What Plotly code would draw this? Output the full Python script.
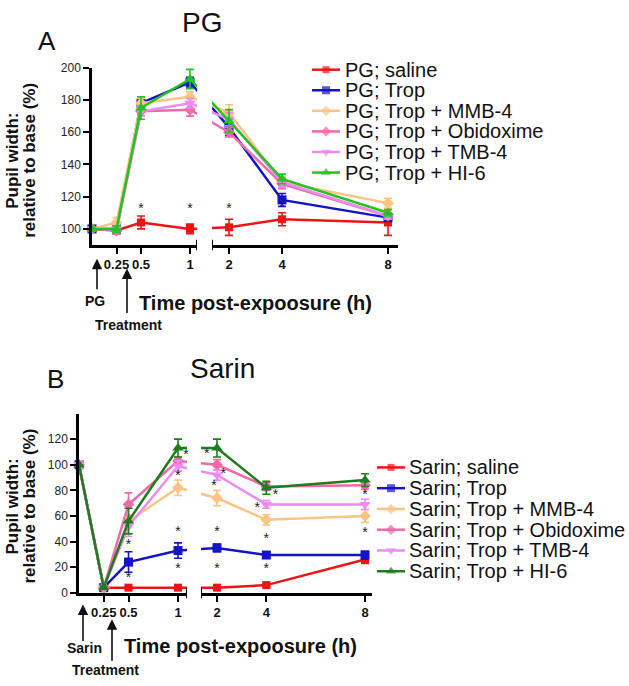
import plotly.graph_objects as go

W, H = 629, 686

# ---------------- data ----------------
TIMES = [0, 0.25, 0.5, 1, 2, 4, 8]
TICK_TIMES = [0.25, 0.5, 1, 2, 4, 8]
TICK_LABELS = ["0.25", "0.5", "1", "2", "4", "8"]
TREATMENTS = ["saline", "Trop", "Trop + MMB-4", "Trop + Obidoxime", "Trop + TMB-4", "Trop + HI-6"]

PG_YTICKS = [100, 120, 140, 160, 180, 200]
SARIN_YTICKS = [0, 20, 40, 60, 80, 100, 120]

# Panel A: PG
PG_SALINE = [100, 99, 104, 100, 101, 106, 104]
PG_SALINE_ERR = [1, 2, 4, 3, 5, 4, 8]
PG_TROP = [100, 100, 178, 191, 163, 118, 107]
PG_TROP_ERR = [1, 2, 4, 3, 5, 4, 2]
PG_MMB4 = [100, 104, 178, 182, 172, 129, 116]
PG_MMB4_ERR = [1, 3, 3, 3, 5, 3, 3]
PG_OBIDOXIME = [100, 99, 173, 174, 160, 128, 108]
PG_OBIDOXIME_ERR = [1, 2, 3, 4, 3, 3, 2]
PG_TMB4 = [100, 100, 173, 178, 168, 129, 108]
PG_TMB4_ERR = [1, 2, 3, 3, 4, 3, 2]
PG_HI6 = [100, 100, 175, 193, 167, 131, 110]
PG_HI6_ERR = [1, 2, 7, 6, 7, 3, 2]
PG_STARS_T = [0.5, 1, 2, 4]
PG_STARS_Y = [112, 112, 112, 113]

# Panel B: Sarin
SARIN_SALINE = [100, 4, 4, 4, 4, 6, 26]
SARIN_SALINE_ERR = [0, 1, 1, 1, 1, 1, 3]
SARIN_TROP = [100, 4, 24, 33, 35, 29.5, 29.5]
SARIN_TROP_ERR = [0, 1, 8, 6, 3, 2, 3]
SARIN_MMB4 = [100, 4, 56, 82, 74, 57, 60]
SARIN_MMB4_ERR = [0, 1, 5, 6, 6, 4, 5]
SARIN_OBIDOXIME = [100, 4, 69, 103, 100, 83, 84]
SARIN_OBIDOXIME_ERR = [3, 1, 9, 3, 4, 3, 3]
SARIN_TMB4 = [100, 4, 52, 99, 92, 69, 69]
SARIN_TMB4_ERR = [3, 1, 8, 4, 4, 3, 4]
SARIN_HI6 = [100, 4, 56, 113, 113, 82, 88]
SARIN_HI6_ERR = [0, 1, 10, 7, 7, 5, 5]
SARIN_STARS_T = [0.5, 0.5, 1, 1, 1, 1.08, 2, 2, 1.88, 1.58, 2.25, 4, 4, 3.63, 4.37, 8, 8]
SARIN_STARS_Y = [37, 11, 47, 18, 91, 107, 47, 18, 83, 108, 92, 42, 18, 66, 76, 76, 46]

# ---------------- styles ----------------
FONT = "Liberation Sans, Arial, sans-serif"
SYMBOLS = ["square", "square", "diamond", "diamond", "triangle-down", "triangle-up"]
MSIZE = [8, 9, 9, 9, 10, 10]
COLORS_A = ["#EE1414", "#1414C4", "#FBC384", "#EF6AA6", "#EC8BF0", "#22C322"]
COLORS_B = ["#EE1414", "#1414C4", "#FBC384", "#EF6AA6", "#EC8BF0", "#1B7D1B"]
BREAK_T = 1.15


def fx(px):
    return px / W


def fy(py):
    return 1 - py / H


# broken-axis geometry (pixels) per panel
PANELS = [
    dict(name="PG", series=[PG_SALINE, PG_TROP, PG_MMB4, PG_OBIDOXIME, PG_TMB4, PG_HI6],
         errs=[PG_SALINE_ERR, PG_TROP_ERR, PG_MMB4_ERR, PG_OBIDOXIME_ERR, PG_TMB4_ERR, PG_HI6_ERR],
         colors=COLORS_A, stars=(PG_STARS_T, PG_STARS_Y), yticks=PG_YTICKS, yrange=[90, 200],
         x0=92, s1end=197, s2start=212, xend=398, ppu=98.0, px2=229, px8=388,
         ytop=62, ybot=243, xa="x", xb="x2", ya="y"),
    dict(name="Sarin", series=[SARIN_SALINE, SARIN_TROP, SARIN_MMB4, SARIN_OBIDOXIME, SARIN_TMB4, SARIN_HI6],
         errs=[SARIN_SALINE_ERR, SARIN_TROP_ERR, SARIN_MMB4_ERR, SARIN_OBIDOXIME_ERR, SARIN_TMB4_ERR, SARIN_HI6_ERR],
         colors=COLORS_B, stars=(SARIN_STARS_T, SARIN_STARS_Y), yticks=SARIN_YTICKS, yrange=[0, 140],
         x0=79, s1end=187, s2start=201, xend=372, ppu=99.0, px2=217, px8=365,
         ytop=415, ybot=598, xa="x3", xb="x4", ya="y2"),
]

for p in PANELS:
    u2 = (p["px2"] - p["x0"]) / p["ppu"]
    u8 = (p["px8"] - p["x0"]) / p["ppu"]
    p["r"] = (u8 - u2) / 6.0
    p["c"] = u2 - 2 * p["r"]
    p["range1"] = [0, (p["s1end"] - p["x0"]) / p["ppu"]]
    p["range2"] = [(p["s2start"] - p["x0"]) / p["ppu"], (p["xend"] - p["x0"]) / p["ppu"]]


def to_u(t, p):
    # broken axis scale: first segment linear in t, second segment compressed
    return t if t <= BREAK_T else p["c"] + p["r"] * t


fig = go.Figure()

for p in PANELS:
    xs = [to_u(t, p) for t in TIMES]
    st, sy = p["stars"]
    for seg, xaxis in enumerate((p["xa"], p["xb"])):
        for vals, errs, col, sym, ms in zip(p["series"], p["errs"], p["colors"], SYMBOLS, MSIZE):
            fig.add_trace(go.Scatter(
                x=xs, y=vals, mode="lines+markers",
                error_y=dict(type="data", array=errs, visible=True, color=col, thickness=1.6, width=4),
                line=dict(color=col, width=2.5),
                marker=dict(symbol=sym, size=ms, color=col, line=dict(width=0)),
                cliponaxis=False, showlegend=False,
                xaxis=xaxis, yaxis=p["ya"]))
        keep = [(t, y) for t, y in zip(st, sy) if (t <= BREAK_T) == (seg == 0)]
        fig.add_trace(go.Scatter(
            x=[to_u(t, p) for t, _ in keep], y=[y for _, y in keep], mode="text", text=["*"] * len(keep),
            textposition="middle center", textfont=dict(size=14, color="#222", family=FONT),
            cliponaxis=False, showlegend=False, xaxis=xaxis, yaxis=p["ya"]))

# ---------------- axes ----------------
axis_common = dict(showline=True, linewidth=2.5, linecolor="black", ticks="outside",
                   ticklen=6, tickwidth=2, tickcolor="black", showgrid=False, zeroline=False)
layout_axes = {}
for i, p in enumerate(PANELS):
    t1 = [t for t in TICK_TIMES if t <= BREAK_T]
    l1 = [l for t, l in zip(TICK_TIMES, TICK_LABELS) if t <= BREAK_T]
    t2 = [t for t in TICK_TIMES if t > BREAK_T]
    l2 = [l for t, l in zip(TICK_TIMES, TICK_LABELS) if t > BREAK_T]
    xfont = dict(family=FONT, size=13, color="#111", weight="bold")
    ykey = "yaxis" if p["ya"] == "y" else "yaxis" + p["ya"][1:]
    k1 = "xaxis" if p["xa"] == "x" else "xaxis" + p["xa"][1:]
    k2 = "xaxis" + p["xb"][1:]
    layout_axes[k1] = dict(axis_common, domain=[fx(p["x0"]), fx(p["s1end"])], range=p["range1"],
                           anchor=p["ya"], tickvals=[to_u(t, p) for t in t1], ticktext=l1, tickfont=xfont)
    layout_axes[k2] = dict(axis_common, domain=[fx(p["s2start"]), fx(p["xend"])], range=p["range2"],
                           anchor=p["ya"], tickvals=[to_u(t, p) for t in t2], ticktext=l2, tickfont=xfont)
    layout_axes[ykey] = dict(axis_common, domain=[fy(p["ybot"]), fy(p["ytop"])], range=p["yrange"],
                             anchor=p["xa"], tickvals=p["yticks"],
                             tickfont=dict(family=FONT, size=12, color="#222"))

# overlay axis for the legend keys (pixel space)
layout_axes["xaxis5"] = dict(domain=[0, 1], range=[0, W], visible=False, anchor="y5")
layout_axes["yaxis5"] = dict(domain=[0, 1], range=[H, 0], visible=False, anchor="x5")

# ---------------- legends ----------------
LEG = [dict(prefix="PG; ", x0=312, x1=340, xt=343, y0=64, dy=21, colors=COLORS_A),
       dict(prefix="Sarin; ", x0=377, x1=405, xt=407, y0=470, dy=21.2, colors=COLORS_B)]
annotations = []
for lg in LEG:
    for i, (name, col, sym, ms) in enumerate(zip(TREATMENTS, lg["colors"], SYMBOLS, MSIZE)):
        yy = lg["y0"] + i * lg["dy"]
        xm = (lg["x0"] + lg["x1"]) / 2
        fig.add_trace(go.Scatter(
            x=[lg["x0"], xm, lg["x1"]], y=[yy, yy, yy], mode="lines+markers",
            line=dict(color=col, width=2.5),
            marker=dict(symbol=sym, size=[0, ms - 1, 0], color=col, line=dict(width=0)),
            cliponaxis=False, showlegend=False, xaxis="x5", yaxis="y5"))
        annotations.append(dict(text=lg["prefix"] + name, x=fx(lg["xt"]), y=fy(yy), xref="paper", yref="paper",
                                xanchor="left", yanchor="middle", showarrow=False,
                                font=dict(family=FONT, size=20, color="#111")))


def text(t, x, y, size, bold=False, angle=0, anchor="center"):
    annotations.append(dict(text=t, x=fx(x), y=fy(y), xref="paper", yref="paper", xanchor=anchor,
                            yanchor="middle", showarrow=False, textangle=angle,
                            font=dict(family=FONT, size=size, color="#111",
                                      weight="bold" if bold else "normal")))


def arrow(x, ytip, ytail):
    annotations.append(dict(text="", x=fx(x), y=fy(ytip), xref="paper", yref="paper", showarrow=True,
                            ax=0, ay=ytail - ytip, arrowhead=2, arrowsize=1.3, arrowwidth=1.6,
                            arrowcolor="#111"))


# panel A texts
text("A", 47, 35, 26)
text("PG", 202, 16, 28)
text("Pupil width:", 13, 157, 17, bold=True, angle=-90)
text("relative to base (%)", 30, 157, 17, bold=True, angle=-90)
text("Time post-expoosure (h)", 255, 302, 20, bold=True)
arrow(97, 257, 289)
arrow(127, 267, 313)
text("PG", 95, 300, 14, bold=True)
text("Treatment", 128, 325, 14, bold=True)

# panel B texts
text("B", 56, 380, 26)
text("Sarin", 222, 369, 28)
text("Pupil width:", 13, 510, 17, bold=True, angle=-90)
text("relative to base (%)", 30, 510, 17, bold=True, angle=-90)
text("Time post-expoosure (h)", 241, 652, 20, bold=True)
arrow(83, 610, 648)
arrow(112, 625, 668)
text("Sarin", 84, 654, 14, bold=True)
text("Treatment", 105, 677, 14, bold=True)

# break marks at the ends of the axis segments
shapes = []
for p in PANELS:
    for xr, xv in ((p["xa"], p["range1"][1]), (p["xb"], p["range2"][0])):
        shapes.append(dict(type="line", xref=xr, yref=p["ya"] + " domain", x0=xv, x1=xv, y0=-0.03, y1=0.03,
                           line=dict(color="black", width=2)))

fig.update_layout(
    width=W, height=H, margin=dict(l=0, r=0, t=0, b=0),
    paper_bgcolor="white", plot_bgcolor="rgba(0,0,0,0)",
    font=dict(family=FONT, color="#111"),
    showlegend=False, annotations=annotations, shapes=shapes,
    **layout_axes)

fig.write_html("out.html", config={"displayModeBar": False},
               post_script="document.body.style.margin='0px';document.body.style.overflow='hidden';")
